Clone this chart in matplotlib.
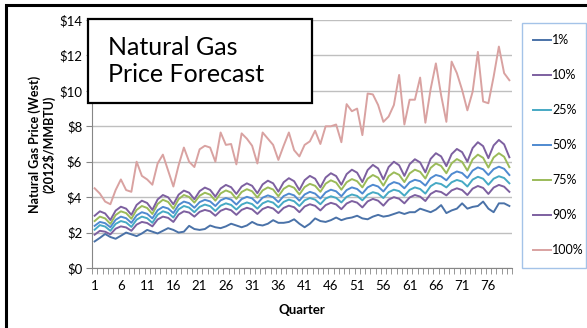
import matplotlib
matplotlib.use("Agg")
import matplotlib.pyplot as plt
from matplotlib.patches import Rectangle

plt.rcParams['font.family'] = ['Lato', 'DejaVu Sans']

quarters = list(range(1, 81))
tick_quarters = [1, 6, 11, 16, 21, 26, 31, 36, 41, 46, 51, 56, 61, 66, 71, 76]

p01 = [1.5, 1.7, 1.92, 1.75, 1.65, 1.82, 2.0, 1.9, 1.8, 1.95,
       2.15, 2.05, 1.95, 2.1, 2.25, 2.15, 2.0, 2.05, 2.38, 2.2,
       2.15, 2.2, 2.4, 2.3, 2.25, 2.35, 2.5, 2.4, 2.3, 2.4,
       2.6, 2.45, 2.4, 2.5, 2.7, 2.55, 2.55, 2.6, 2.75, 2.5,
       2.3, 2.5, 2.8, 2.65, 2.6, 2.7, 2.85, 2.7, 2.8, 2.85,
       2.95, 2.8, 2.75, 2.9, 3.0, 2.9, 2.95, 3.05, 3.15, 3.05,
       3.15, 3.15, 3.35, 3.25, 3.15, 3.3, 3.55, 3.1, 3.25, 3.35,
       3.65, 3.35, 3.45, 3.5, 3.75, 3.35, 3.15, 3.65, 3.65, 3.5]

p10 = [1.88, 2.1, 2.05, 1.9, 2.22, 2.35, 2.29, 2.1, 2.45, 2.6,
       2.54, 2.35, 2.74, 2.9, 2.83, 2.6, 3.02, 3.2, 3.13, 2.9,
       3.17, 3.28, 3.2, 2.95, 3.23, 3.35, 3.26, 3.0, 3.28, 3.4,
       3.31, 3.05, 3.33, 3.45, 3.36, 3.1, 3.39, 3.52, 3.43, 3.15,
       3.47, 3.6, 3.51, 3.25, 3.55, 3.68, 3.59, 3.32, 3.64, 3.78,
       3.69, 3.42, 3.76, 3.9, 3.8, 3.52, 3.86, 4.0, 3.91, 3.65,
       3.98, 4.12, 4.03, 3.78, 4.18, 4.35, 4.29, 4.1, 4.38, 4.5,
       4.4, 4.12, 4.48, 4.63, 4.52, 4.18, 4.54, 4.69, 4.59, 4.3]

p25 = [2.16, 2.42, 2.34, 2.1, 2.49, 2.65, 2.57, 2.32, 2.73, 2.9,
       2.81, 2.55, 3.01, 3.2, 3.11, 2.85, 3.31, 3.5, 3.41, 3.15,
       3.45, 3.58, 3.49, 3.22, 3.52, 3.65, 3.56, 3.3, 3.58, 3.7,
       3.61, 3.35, 3.65, 3.78, 3.69, 3.42, 3.73, 3.86, 3.77, 3.5,
       3.82, 3.95, 3.86, 3.6, 3.92, 4.05, 3.96, 3.7, 4.02, 4.15,
       4.07, 3.82, 4.14, 4.28, 4.2, 3.95, 4.28, 4.42, 4.34, 4.08,
       4.41, 4.55, 4.46, 4.2, 4.62, 4.8, 4.74, 4.55, 4.84, 4.97,
       4.88, 4.6, 4.99, 5.15, 5.04, 4.7, 5.04, 5.18, 5.08, 4.78]

p50 = [2.38, 2.6, 2.53, 2.3, 2.72, 2.9, 2.81, 2.55, 2.97, 3.15,
       3.06, 2.8, 3.26, 3.45, 3.36, 3.1, 3.56, 3.75, 3.66, 3.4,
       3.72, 3.85, 3.76, 3.5, 3.82, 3.95, 3.86, 3.58, 3.89, 4.02,
       3.93, 3.65, 3.97, 4.1, 4.0, 3.72, 4.06, 4.2, 4.1, 3.8,
       4.15, 4.3, 4.2, 3.92, 4.27, 4.42, 4.33, 4.05, 4.4, 4.55,
       4.46, 4.2, 4.55, 4.7, 4.6, 4.32, 4.69, 4.85, 4.76, 4.5,
       4.84, 4.98, 4.9, 4.65, 5.07, 5.25, 5.17, 4.95, 5.3, 5.45,
       5.36, 5.08, 5.5, 5.68, 5.57, 5.25, 5.58, 5.72, 5.6, 5.25]

p75 = [2.65, 2.9, 2.8, 2.49, 2.99, 3.2, 3.1, 2.78, 3.28, 3.5,
       3.39, 3.05, 3.61, 3.85, 3.73, 3.35, 3.89, 4.12, 4.01, 3.69,
       4.08, 4.25, 4.14, 3.8, 4.21, 4.38, 4.26, 3.9, 4.29, 4.45,
       4.33, 3.98, 4.38, 4.55, 4.43, 4.05, 4.47, 4.65, 4.53, 4.15,
       4.57, 4.75, 4.64, 4.3, 4.76, 4.95, 4.82, 4.42, 4.84, 5.02,
       4.9, 4.55, 5.04, 5.25, 5.1, 4.65, 5.18, 5.4, 5.26, 4.85,
       5.34, 5.55, 5.43, 5.05, 5.65, 5.9, 5.76, 5.35, 5.91, 6.15,
       5.99, 5.5, 6.13, 6.4, 6.22, 5.67, 6.24, 6.48, 6.28, 5.69]

p90 = [2.95, 3.2, 3.08, 2.71, 3.24, 3.46, 3.35, 3.0, 3.56, 3.8,
       3.67, 3.28, 3.87, 4.12, 3.99, 3.6, 4.14, 4.37, 4.25, 3.88,
       4.34, 4.54, 4.41, 4.03, 4.49, 4.69, 4.56, 4.18, 4.6, 4.78,
       4.64, 4.22, 4.72, 4.93, 4.78, 4.31, 4.84, 5.07, 4.9, 4.4,
       4.96, 5.2, 5.04, 4.55, 5.11, 5.35, 5.19, 4.7, 5.3, 5.55,
       5.38, 4.85, 5.53, 5.82, 5.62, 5.0, 5.7, 6.0, 5.8, 5.2,
       5.86, 6.14, 5.96, 5.4, 6.16, 6.48, 6.3, 5.75, 6.43, 6.72,
       6.54, 6.0, 6.77, 7.1, 6.88, 6.2, 6.92, 7.23, 6.98, 6.25]

p100 = [4.5, 4.2, 3.75, 3.6, 4.4, 5.0, 4.4, 4.3, 6.0, 5.2,
        5.0, 4.7, 5.9, 6.4, 5.5, 4.6, 5.8, 6.8, 6.0, 5.7,
        6.7, 6.9, 6.8, 6.0, 7.65, 6.95, 7.0, 5.85, 7.6, 7.3,
        6.9, 5.9, 7.65, 7.3, 6.95, 6.1, 6.9, 7.65, 6.65, 6.3,
        6.95, 7.15, 7.75, 7.0, 8.0, 8.0, 8.1, 7.1, 9.25, 8.85,
        9.0, 7.5, 9.85, 9.8, 9.2, 8.25, 8.55, 9.2, 10.9, 8.1,
        9.5, 9.5, 10.75, 8.2, 10.1, 11.55, 9.75, 8.25, 11.65, 11.0,
        10.05, 8.9, 9.95, 12.2, 9.4, 9.3, 10.8, 12.5, 11.0, 10.6]

labels = ['1%', '10%', '25%', '50%', '75%', '90%', '100%']
series = [p01, p10, p25, p50, p75, p90, p100]
colors = ['#4A72A8', '#7D60A0', '#46A9C4', '#4F8AD0', '#9BBB59', '#7D60A0', '#D9A2A1']

fig = plt.figure(figsize=(5.87, 3.28), dpi=100)
ax = fig.add_axes([92 / 587, 1 - 268 / 328, 420 / 587, 248 / 328])

for vals, lab, col in zip(series, labels, colors):
    ax.plot(quarters, vals, color=col, lw=1.4, label=lab)

ax.set_xlim(0.5, 80.5)
ax.set_ylim(0, 14)
ax.set_yticks(range(0, 15, 2))
ax.set_yticklabels(['$%d' % v for v in range(0, 15, 2)])
ax.set_xticks(tick_quarters)
ax.set_xticks([q + 0.5 for q in range(0, 81)], minor=True)
ax.tick_params(axis='x', which='major', length=0, pad=9, labelsize=9.5)
ax.tick_params(axis='x', which='minor', length=4, color='#868686', direction='out')
ax.tick_params(axis='y', length=4, color='#868686', labelsize=9.5, pad=3)
ax.grid(axis='y', color='#BFBFBF', lw=1)
ax.set_axisbelow(True)
for s in ['top', 'right']:
    ax.spines[s].set_visible(False)
for s in ['left', 'bottom']:
    ax.spines[s].set_color('#868686')

ax.set_xlabel('Quarter', fontsize=9.5, fontweight='bold', labelpad=8)
ax.set_ylabel('Natural Gas Price (West)\n(2012$/MMBTU)', fontsize=9,
              fontweight='bold', linespacing=1.05)
ax.yaxis.set_label_coords(-0.088, 0.5)

# title box
fig.patches.append(Rectangle((88 / 587, 1 - 103 / 328), 224 / 587, 84 / 328,
                             transform=fig.transFigure, fill=True,
                             facecolor='white', edgecolor='black', lw=1.6,
                             zorder=5))
fig.text(108 / 587, 1 - 61 / 328, 'Natural Gas\nPrice Forecast', fontsize=18,
         va='center', ha='left', linespacing=1.25, zorder=6)

# outer frame
fig.patches.append(Rectangle((6 / 587, -0.1), 1.2, 1 - 5 / 328 + 0.1,
                             transform=fig.transFigure, fill=False,
                             edgecolor='black', lw=2.2))

leg = ax.legend(loc='upper left',
                bbox_to_anchor=(522 / 587, 1 - 266 / 328, 64 / 587, 243 / 328),
                bbox_transform=fig.transFigure, mode='expand',
                frameon=True, fancybox=False,
                fontsize=9, handlelength=1.4, handletextpad=0.1,
                labelspacing=1.84, borderpad=0.9, borderaxespad=0)
leg.get_frame().set_edgecolor('#8EB4E3')
leg.get_frame().set_linewidth(1.0)

fig.savefig('out.png', dpi=100)
